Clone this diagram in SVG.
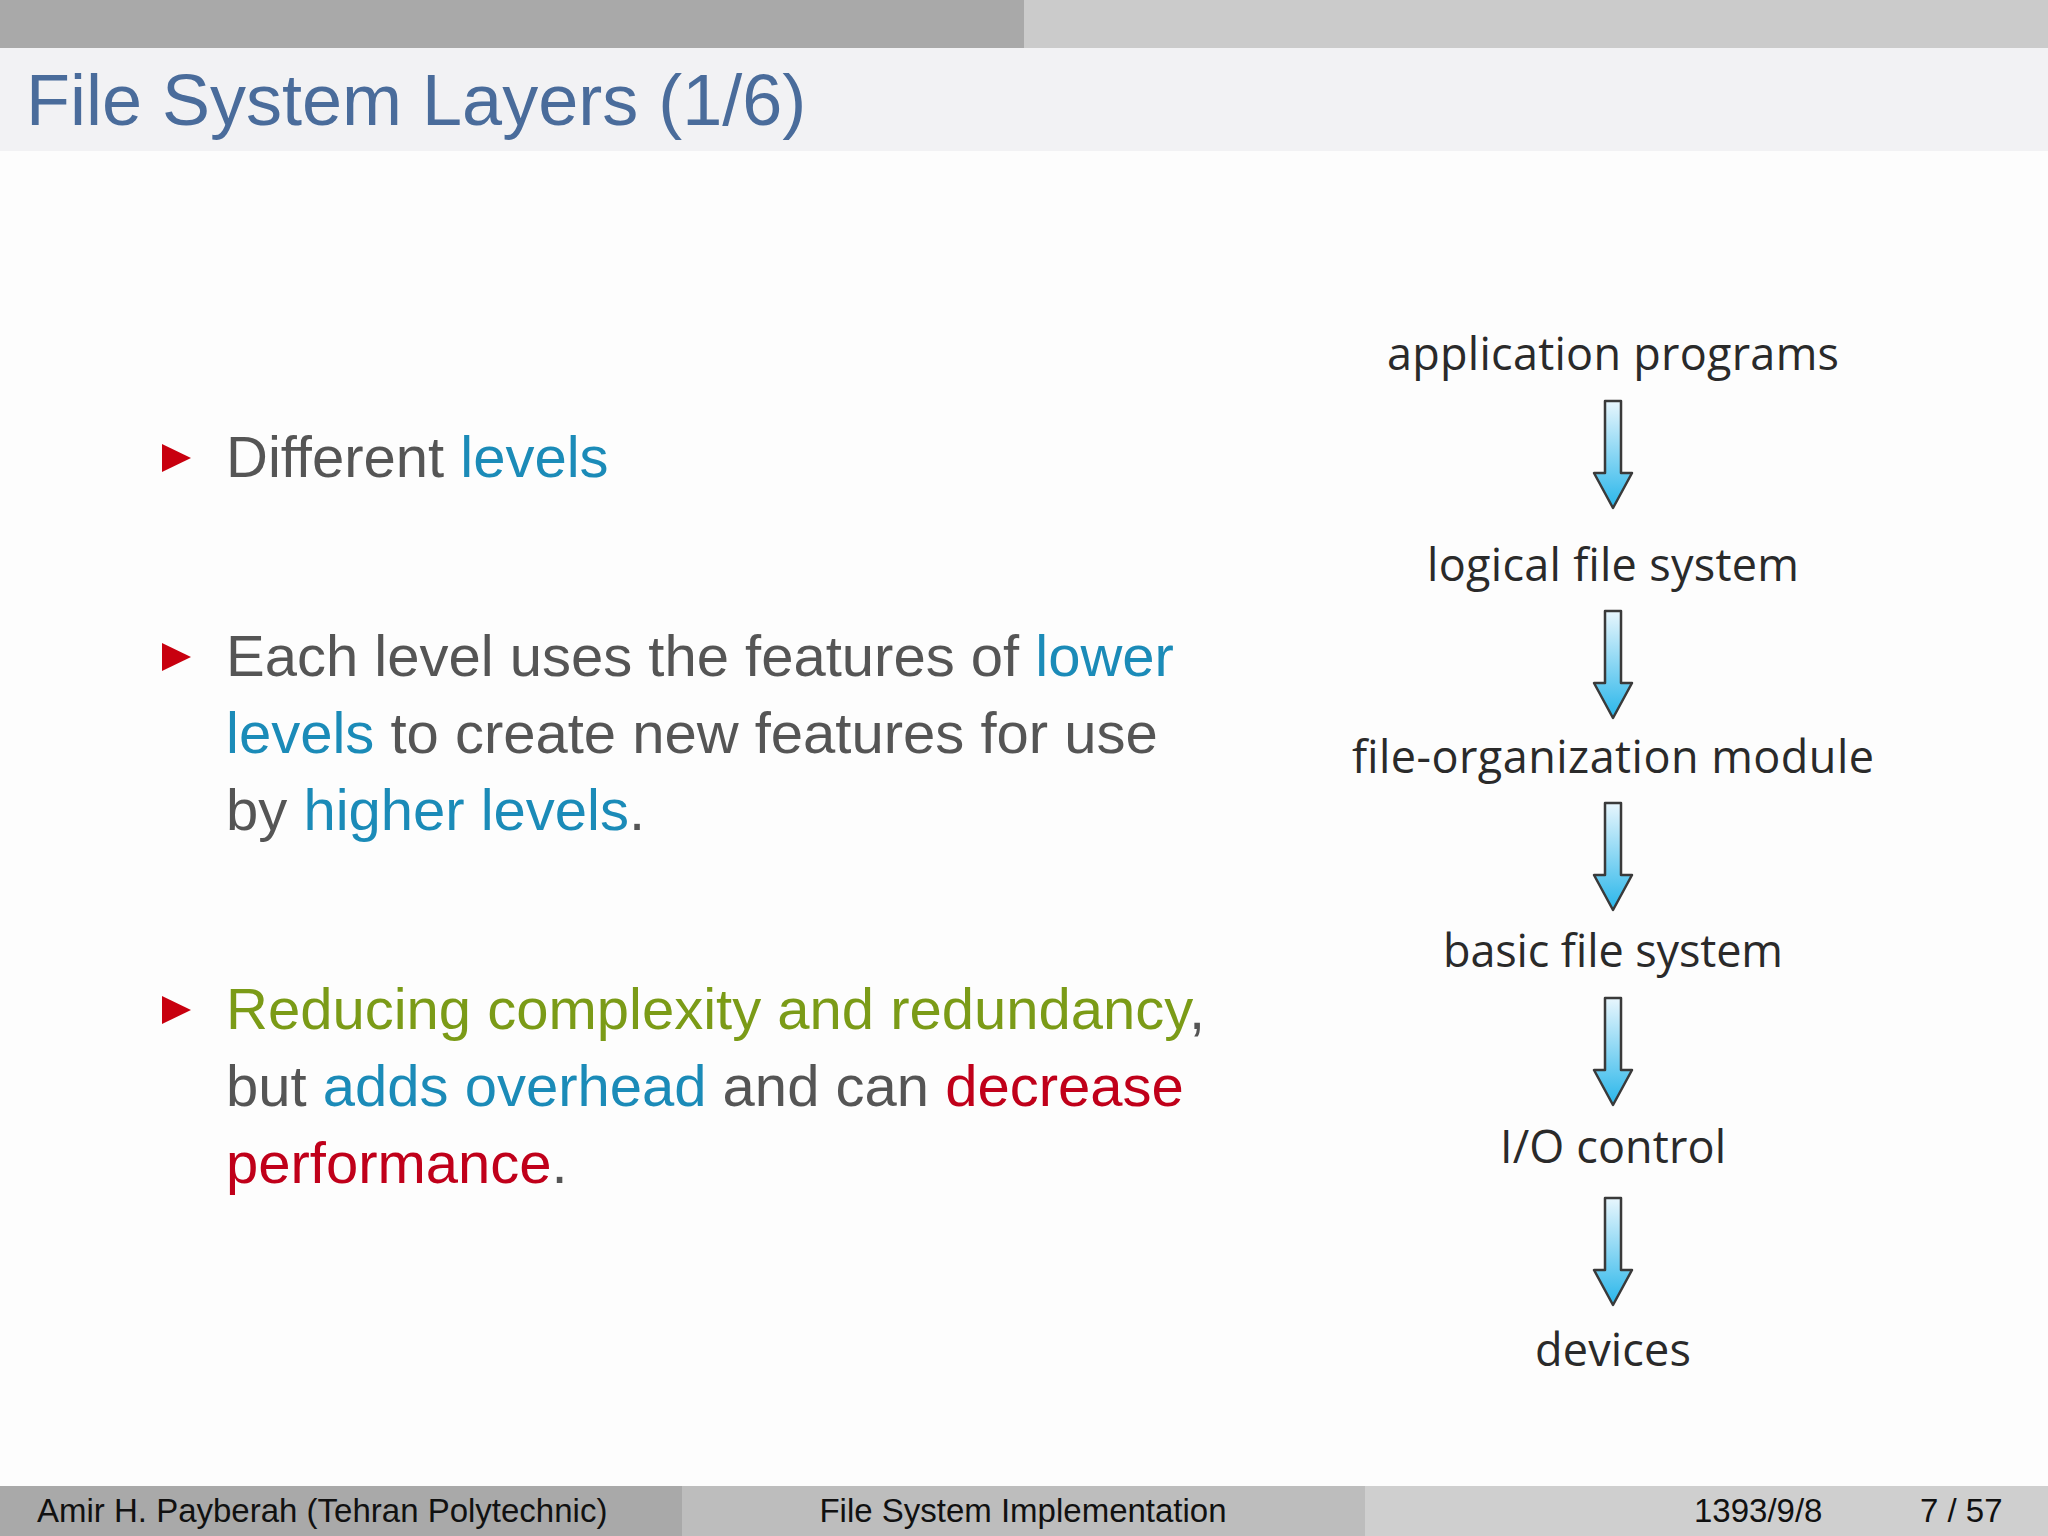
<svg xmlns="http://www.w3.org/2000/svg" width="2048" height="1536" viewBox="0 0 2048 1536">
<defs>
<linearGradient id="g" x1="0" y1="0" x2="0" y2="1"><stop offset="0" stop-color="#e8f6fd"/><stop offset="1" stop-color="#29b6ea"/></linearGradient>
<path id="arr" d="M-8,0 H8 V72 H19 L0,107 L-19,72 H-8 Z" fill="url(#g)" stroke="#3a3a3a" stroke-width="2.5" stroke-linejoin="round"/>
</defs>
<style>
.b{font-family:"Liberation Sans",Arial,sans-serif;font-size:58px;fill:#555}
.bl{fill:#1b8bb8}.gr{fill:#7b9b17}.rd{fill:#c0001a}
.r{font-family:"Open Sans","Liberation Sans",sans-serif;font-size:45px;fill:#2a2a2a;text-anchor:middle}
.f{font-family:"Liberation Sans",Arial,sans-serif;font-size:33px;fill:#111}
</style>
<rect width="2048" height="1536" fill="#fdfdfd"/>
<rect width="1024" height="48" fill="#a9a9a9"/>
<rect x="1024" width="1024" height="48" fill="#cbcbcb"/>
<rect y="48" width="2048" height="103" fill="#f2f2f4"/>
<text x="26" y="125" font-family="Liberation Sans,Arial,sans-serif" font-size="72" fill="#4a6c9b">File System Layers (1/6)</text>
<g id="bullets">
<path d="M162,444 L191,458 L162,472 Z" fill="#c8000f"/>
<path d="M162,643 L191,657 L162,671 Z" fill="#c8000f"/>
<path d="M162,996 L191,1010 L162,1024 Z" fill="#c8000f"/>
<text class="b" x="226" y="477">Different <tspan class="bl">levels</tspan></text>
<text class="b" x="226" y="676">Each level uses the features of <tspan class="bl">lower</tspan></text>
<text class="b" x="226" y="753"><tspan class="bl">levels</tspan> to create new features for use</text>
<text class="b" x="226" y="830">by <tspan class="bl">higher levels</tspan>.</text>
<text class="b" x="226" y="1029"><tspan class="gr">Reducing complexity and redundancy</tspan>,</text>
<text class="b" x="226" y="1106">but <tspan class="bl">adds overhead</tspan> and can <tspan class="rd">decrease</tspan></text>
<text class="b" x="226" y="1183"><tspan class="rd">performance</tspan>.</text>
</g>
<g id="n1"><text class="r" x="1613" y="370" textLength="452">application programs</text></g>
<g id="n2"><text class="r" x="1613" y="581" textLength="372">logical file system</text></g>
<g id="n3"><text class="r" x="1613" y="773" textLength="522">file-organization module</text></g>
<g id="n4"><text class="r" x="1613" y="967" textLength="340">basic file system</text></g>
<g id="n5"><text class="r" x="1613" y="1163" textLength="226">I/O control</text></g>
<g id="n6"><text class="r" x="1613" y="1366" textLength="156">devices</text></g>
<g id="connectors">
<use href="#arr" x="1613" y="401"/>
<use href="#arr" x="1613" y="611"/>
<use href="#arr" x="1613" y="803"/>
<use href="#arr" x="1613" y="998"/>
<use href="#arr" x="1613" y="1198"/>
</g>
<rect y="1486" width="682" height="50" fill="#a9a9a9"/>
<rect x="682" y="1486" width="683" height="50" fill="#bdbdbd"/>
<rect x="1365" y="1486" width="683" height="50" fill="#cfcfcf"/>
<text class="f" x="37" y="1522">Amir H. Payberah  (Tehran Polytechnic)</text>
<text class="f" x="1023" y="1522" text-anchor="middle">File System Implementation</text>
<text class="f" x="1694" y="1522">1393/9/8</text>
<text class="f" x="1920" y="1522">7 / 57</text>
</svg>
